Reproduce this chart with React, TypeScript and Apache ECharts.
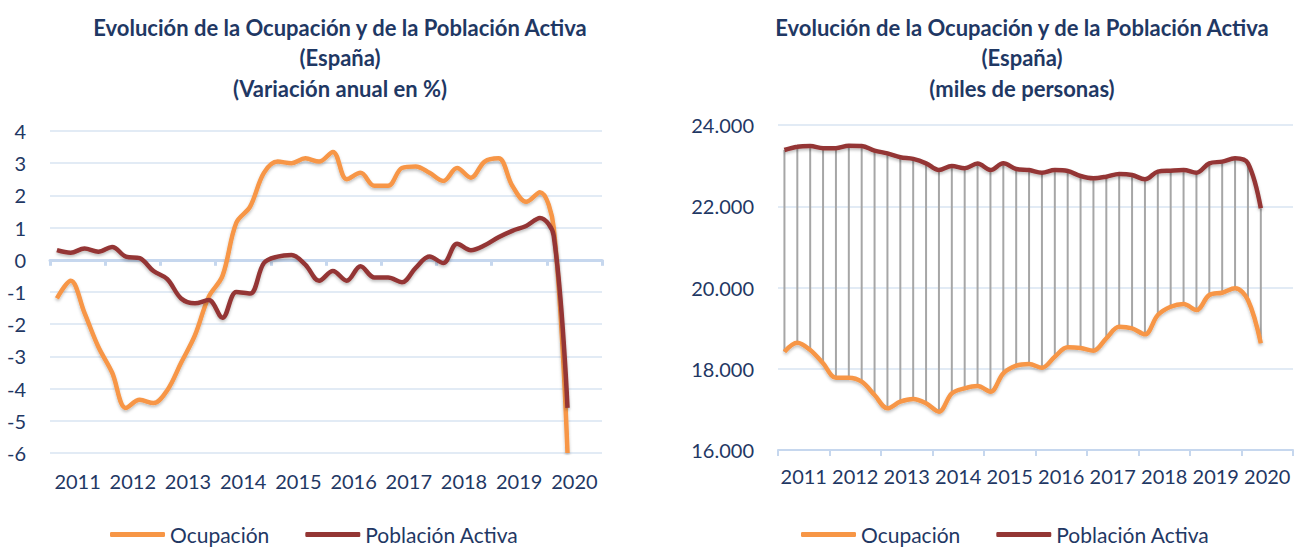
import React, { useEffect, useRef } from "react";
import * as echarts from "echarts";

const years = ["2011", "2012", "2013", "2014", "2015", "2016", "2017", "2018", "2019", "2020"];
const quarters = years.flatMap((y) => ["T1", "T2", "T3", "T4"].map((q) => `${y} ${q}`));

// Variación anual en %
const ocupacionVar = [-1.2, -0.65, -1.65, -2.7, -3.5, -4.6, -4.35, -4.45, -4.05, -3.2, -2.35, -1.15, -0.5, 1.15, 1.65, 2.7, 3.05, 3.0, 3.15, 3.05, 3.35, 2.5, 2.7, 2.3, 2.3, 2.85, 2.9, 2.7, 2.45, 2.85, 2.55, 3.05, 3.15, 2.3, 1.8, 2.1, 1.0, -6.0];
const activaVar = [0.3, 0.22, 0.35, 0.25, 0.4, 0.1, 0.05, -0.35, -0.6, -1.2, -1.35, -1.25, -1.8, -1.0, -1.05, -0.1, 0.1, 0.15, -0.15, -0.65, -0.35, -0.65, -0.2, -0.55, -0.55, -0.7, -0.25, 0.1, -0.1, 0.5, 0.3, 0.45, 0.7, 0.9, 1.05, 1.3, 0.75, -4.6];

// Miles de personas
const ocupacionMiles = [18420, 18641, 18462, 18134, 17780, 17780, 17681, 17354, 17026, 17189, 17255, 17149, 16943, 17395, 17518, 17575, 17436, 17887, 18075, 18117, 18026, 18297, 18528, 18510, 18445, 18749, 19035, 18995, 18847, 19323, 19527, 19594, 19446, 19815, 19872, 19980, 19692, 18626];
const activaMiles = [23385, 23466, 23483, 23430, 23430, 23490, 23483, 23370, 23300, 23205, 23165, 23057, 22892, 22990, 22935, 23050, 22892, 23057, 22917, 22892, 22826, 22892, 22868, 22744, 22688, 22727, 22794, 22769, 22663, 22851, 22876, 22892, 22826, 23057, 23098, 23180, 23057, 21950];

const titleLine1 = "Evolución de la Ocupación y de la Población Activa";
const titleLine2 = "(España)";
const leftTitle3 = "(Variación anual en %)";
const rightTitle3 = "(miles de personas)";

const NAVY = "#1F3864";
const ORANGE = "#F79646";
const RED = "#943634";
const GRID = "#D9E4F2";
const AXIS = "#C6D7EE";
const FONT = "Lato, 'Open Sans', sans-serif";

function fmtThousands(v: number) {
  return String(Math.round(v)).replace(/\B(?=(\d{3})+(?!\d))/g, ".");
}

export default function App() {
  const ref = useRef<HTMLDivElement>(null);
  useEffect(() => {
    document.body.style.margin = "0";
    const chart = echarts.init(ref.current!, null, { renderer: "svg" });
    const titleText = (x: number, y: number, text: string) => ({
      type: "text",
      x,
      y,
      style: {
        text,
        textAlign: "center",
        textVerticalAlign: "middle",
        fill: NAVY,
        font: `bold 22px ${FONT}`,
      },
    });
    const lineStyleFor = (color: string) => ({
      color,
      width: 4.5,
      shadowColor: "rgba(0,0,0,0.25)",
      shadowBlur: 3,
      shadowOffsetY: 2,
    });
    const labelStyle = { color: NAVY, fontSize: 20, fontFamily: FONT };
    const legendCommon = {
      icon: "roundRect",
      itemWidth: 55,
      itemHeight: 5,
      itemGap: 36,
      data: ["Ocupación", "Población Activa"],
      textStyle: { color: NAVY, fontSize: 21, fontFamily: FONT },
      selectedMode: false,
    };
    chart.setOption({
      animation: false,
      backgroundColor: "#ffffff",
      graphic: [
        titleText(340, 27, titleLine1),
        titleText(340, 57, titleLine2),
        titleText(340, 88, leftTitle3),
        titleText(1022, 27, titleLine1),
        titleText(1022, 57, titleLine2),
        titleText(1022, 88, rightTitle3),
      ],
      legend: [
        { ...legendCommon, left: 105, top: 519 },
        { ...legendCommon, left: 796, top: 519 },
      ],
      grid: [
        { left: 50, top: 131, width: 552, height: 322 },
        { left: 778, top: 125, width: 515, height: 325 },
      ],
      xAxis: [
        {
          gridIndex: 0,
          type: "category",
          data: years,
          position: "bottom",
          axisLine: { show: false, onZero: false },
          axisTick: { show: false },
          axisLabel: { ...labelStyle, margin: 18, interval: 0 },
        },
        {
          gridIndex: 0,
          type: "category",
          data: years,
          position: "bottom",
          axisLine: { show: true, onZero: true, lineStyle: { color: AXIS, width: 3 } },
          axisTick: { show: true, interval: 0, length: 6, lineStyle: { color: AXIS, width: 3 } },
          axisLabel: { show: false },
        },
        {
          gridIndex: 0,
          type: "category",
          data: quarters,
          show: false,
        },
        {
          gridIndex: 1,
          type: "category",
          data: years,
          position: "bottom",
          axisLine: { show: true, lineStyle: { color: AXIS, width: 2 } },
          axisTick: { show: true, interval: 0, length: 6, lineStyle: { color: AXIS, width: 2 } },
          axisLabel: { ...labelStyle, margin: 16, interval: 0 },
        },
        {
          gridIndex: 1,
          type: "category",
          data: quarters,
          show: false,
        },
      ],
      yAxis: [
        {
          gridIndex: 0,
          type: "value",
          min: -6,
          max: 4,
          interval: 1,
          axisLine: { show: false },
          axisTick: { show: false },
          axisLabel: { ...labelStyle, margin: 24 },
          splitLine: { lineStyle: { color: GRID, width: 1.5 } },
        },
        {
          gridIndex: 1,
          type: "value",
          min: 16000,
          max: 24000,
          interval: 2000,
          axisLine: { show: false },
          axisTick: { show: false },
          axisLabel: { ...labelStyle, margin: 24, formatter: (v: number) => fmtThousands(v) },
          splitLine: { lineStyle: { color: GRID, width: 1.5 } },
        },
      ],
      series: [
        {
          name: "Ocupación",
          type: "line",
          xAxisIndex: 2,
          yAxisIndex: 0,
          data: ocupacionVar,
          smooth: 0.35,
          symbol: "none",
          color: ORANGE,
          lineStyle: lineStyleFor(ORANGE),
          z: 3,
        },
        {
          name: "Población Activa",
          type: "line",
          xAxisIndex: 2,
          yAxisIndex: 0,
          data: activaVar,
          smooth: 0.35,
          symbol: "none",
          color: RED,
          lineStyle: lineStyleFor(RED),
          z: 4,
        },
        {
          name: "drop",
          type: "custom",
          xAxisIndex: 4,
          yAxisIndex: 1,
          data: ocupacionMiles.map((v, i) => [i, v, activaMiles[i]]),
          encode: { x: 0, y: [1, 2] },
          renderItem: (params: any, api: any) => {
            const i = api.value(0);
            const p1 = api.coord([i, api.value(1)]);
            const p2 = api.coord([i, api.value(2)]);
            return {
              type: "line",
              shape: { x1: p1[0], y1: p1[1], x2: p2[0], y2: p2[1] },
              style: { stroke: "#A6A6A6", lineWidth: 2 },
            };
          },
          z: 1,
        },
        {
          name: "Ocupación",
          type: "line",
          xAxisIndex: 4,
          yAxisIndex: 1,
          data: ocupacionMiles,
          smooth: 0.35,
          symbol: "none",
          color: ORANGE,
          lineStyle: lineStyleFor(ORANGE),
          z: 3,
        },
        {
          name: "Población Activa",
          type: "line",
          xAxisIndex: 4,
          yAxisIndex: 1,
          data: activaMiles,
          smooth: 0.35,
          symbol: "none",
          color: RED,
          lineStyle: lineStyleFor(RED),
          z: 4,
        },
      ],
    });
    return () => chart.dispose();
  }, []);
  return <div ref={ref} style={{ width: 1304, height: 550 }} />;
}
